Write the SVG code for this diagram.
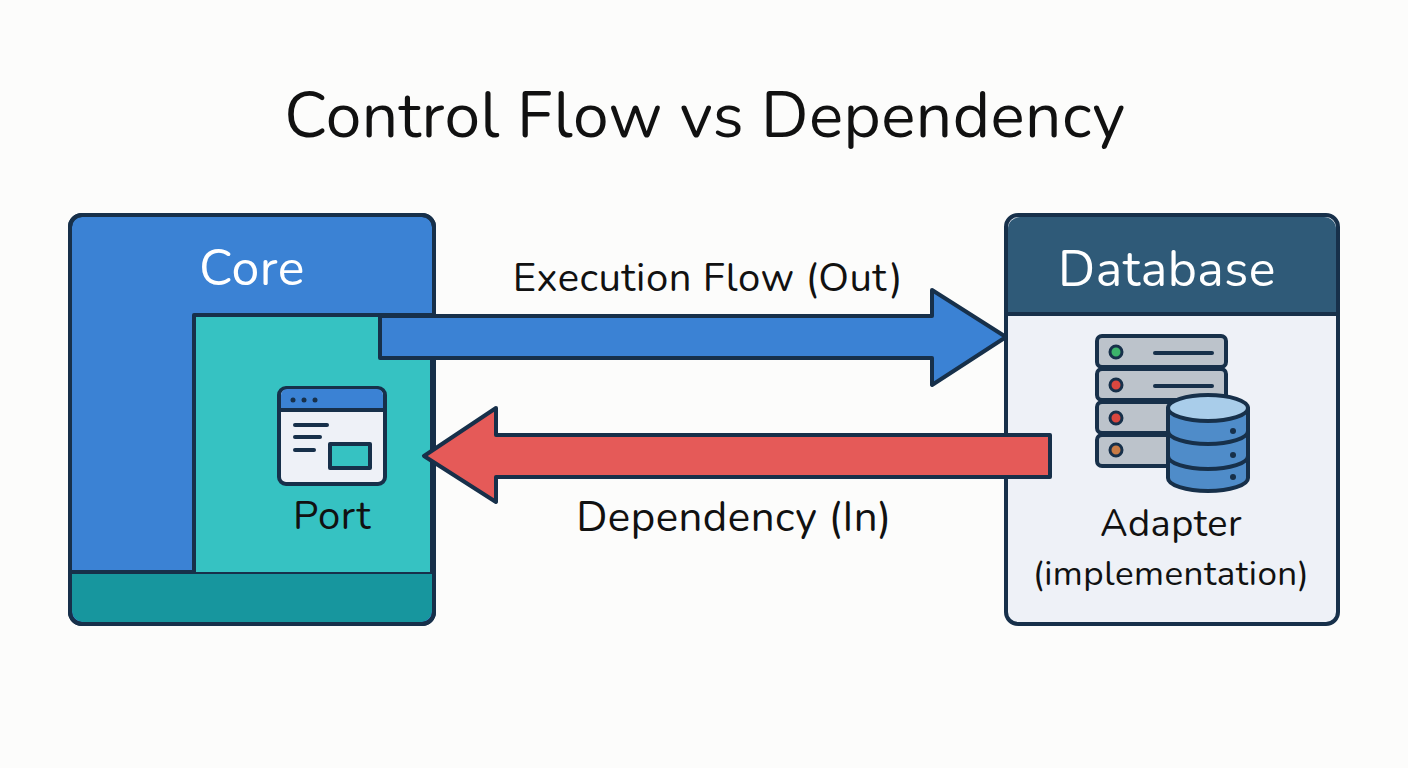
<svg xmlns="http://www.w3.org/2000/svg" width="1408" height="768" viewBox="0 0 1408 768">
<style>
text{font-family:"Nunito","Lato","Noto Sans",sans-serif;letter-spacing:0.5px}
.o{stroke:#17304a;stroke-width:4;stroke-linejoin:round}
.w{fill:#fff}
.k{fill:#111}
</style>
<rect width="1408" height="768" fill="#fcfcfb"/>
<text x="705" y="137" text-anchor="middle" font-size="64" letter-spacing="1.5" class="k">Control Flow vs Dependency</text>
<g id="core">
<rect x="70" y="215" width="364" height="409" rx="12" fill="#3b82d4" class="o"/>
<path d="M72 572H432V610a12 12 0 0 1-12 12H84a12 12 0 0 1-12-12Z" fill="#17969e"/>
<line x1="72" y1="572" x2="432" y2="572" class="o"/>
<rect x="70" y="215" width="364" height="409" rx="12" fill="none" class="o"/>
<text x="252" y="285" text-anchor="middle" font-size="50" class="w">Core</text>
</g>
<g id="port">
<path d="M194 572V315H432V572" fill="#36c2c2" class="o"/>
<rect x="279" y="388" width="106" height="96" rx="7" fill="#eef1f7" class="o"/>
<path d="M281 408V395a6 6 0 0 1 6-6H377a6 6 0 0 1 6 6V408Z" fill="#3b82d4"/>
<line x1="279" y1="410" x2="385" y2="410" class="o"/>
<circle cx="293" cy="400" r="2.5" fill="#17304a"/><circle cx="304" cy="400" r="2.5" fill="#17304a"/><circle cx="315" cy="400" r="2.5" fill="#17304a"/>
<g stroke="#17304a" stroke-width="4" stroke-linecap="round"><line x1="295" y1="425" x2="327" y2="425"/><line x1="295" y1="437" x2="320" y2="437"/><line x1="295" y1="450" x2="314" y2="450"/></g>
<rect x="330" y="444" width="40" height="24" fill="#36c2c2" class="o" stroke-width="3.5"/>
<text x="332" y="529" text-anchor="middle" font-size="40" class="k">Port</text>
</g>
<g id="database">
<rect x="1006" y="215" width="332" height="409" rx="12" fill="#eef1f7" class="o"/>
<path d="M1008 313V229a12 12 0 0 1 12-12H1324a12 12 0 0 1 12 12V313Z" fill="#2f5a78"/>
<line x1="1008" y1="314" x2="1336" y2="314" class="o"/>
<text x="1167" y="286" text-anchor="middle" font-size="50" class="w">Database</text>
<g fill="#bcc3cb" class="o" stroke-width="4">
<rect x="1097" y="336" width="129" height="31" rx="5"/>
<rect x="1097" y="369" width="129" height="31" rx="5"/>
<rect x="1097" y="402" width="129" height="31" rx="5"/>
<rect x="1097" y="435" width="129" height="31" rx="5"/>
</g>
<circle cx="1116" cy="352" r="6" fill="#3cb36a" stroke="#17304a" stroke-width="3"/>
<circle cx="1116" cy="385" r="6" fill="#d9473f" stroke="#17304a" stroke-width="3"/>
<circle cx="1116" cy="418" r="6" fill="#d9473f" stroke="#17304a" stroke-width="3"/>
<circle cx="1116" cy="450" r="6" fill="#c97b45" stroke="#17304a" stroke-width="3"/>
<g stroke="#17304a" stroke-width="4" stroke-linecap="round"><line x1="1155" y1="353" x2="1212" y2="353"/><line x1="1155" y1="386" x2="1212" y2="386"/></g>
<path d="M1168 408V478a40 13 0 0 0 80 0V408Z" fill="#4f8cc9" class="o"/>
<path d="M1168 431a40 13 0 0 0 80 0M1168 456a40 13 0 0 0 80 0" fill="none" class="o"/>
<ellipse cx="1208" cy="408" rx="40" ry="13" fill="#a9cdea" class="o"/>
<circle cx="1233" cy="431" r="3" fill="#17304a"/><circle cx="1233" cy="455" r="3" fill="#17304a"/><circle cx="1233" cy="477" r="3" fill="#17304a"/>
<text x="1171" y="536" text-anchor="middle" font-size="38" class="k">Adapter</text>
<text x="1171" y="585" text-anchor="middle" font-size="35" class="k">(implementation)</text>
</g>
<g id="connectors">
<path d="M380 316H932V290L1006 337L932 385V358H380Z" fill="#3b82d4" class="o"/>
<path d="M1050 435H496V408L424 456L496 502V477H1050Z" fill="#e55a58" class="o"/>
<text x="708" y="291" text-anchor="middle" font-size="40" class="k">Execution Flow (Out)</text>
<text x="734" y="531" text-anchor="middle" font-size="42" class="k">Dependency (In)</text>
</g>
</svg>
